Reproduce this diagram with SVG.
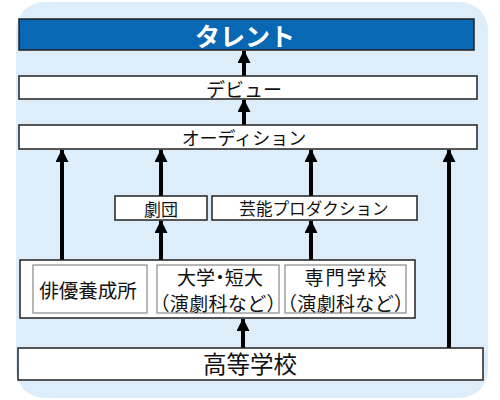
<svg xmlns="http://www.w3.org/2000/svg" width="500" height="400" viewBox="0 0 500 400">
<style>
text{font-family:"Noto Sans CJK JP","Noto Sans",sans-serif;fill:#111;text-anchor:middle;dominant-baseline:central}
.box{fill:#fff;stroke:#222;stroke-width:1.5}
.inner{fill:#fff;stroke:#888;stroke-width:1.2}
.arr{stroke:#000;stroke-width:4;fill:none;marker-end:url(#ah)}
.halt{font-feature-settings:"halt"}
.paren{font-size:19px}
</style>
<defs>
<marker id="ah" markerUnits="userSpaceOnUse" markerWidth="13" markerHeight="13" viewBox="0 0 13 13" refX="12" refY="6.5" orient="auto">
<path d="M0,0 L13,6.5 L0,13 z" fill="#000"/>
</marker>
</defs>
<rect x="16" y="2" width="472" height="396" rx="28" fill="#ddedfa"/>
<g id="connectors">
<line class="arr" x1="244" y1="76" x2="244" y2="51"/>
<line class="arr" x1="244" y1="125" x2="244" y2="100"/>
<line class="arr" x1="62" y1="260" x2="62" y2="150"/>
<line class="arr" x1="161" y1="196" x2="161" y2="150"/>
<line class="arr" x1="161" y1="260" x2="161" y2="221"/>
<line class="arr" x1="311" y1="196" x2="311" y2="150"/>
<line class="arr" x1="311" y1="260" x2="311" y2="221"/>
<line class="arr" x1="449" y1="348" x2="449" y2="150"/>
<line class="arr" x1="243" y1="348" x2="243" y2="319"/>
</g>
<g id="talent">
<rect x="19" y="19" width="455" height="31" fill="#0868b4" stroke="#222" stroke-width="1.5"/>
<text x="245" y="35" style="fill:#fff;font-weight:bold;font-size:25px">タレント</text>
</g>
<g id="debut">
<rect class="box" x="19" y="76" width="458" height="23"/>
<text x="244" y="88" font-size="19">デビュー</text>
</g>
<g id="audition">
<rect class="box" x="19" y="125" width="458" height="24"/>
<text x="244" y="137" font-size="18">オーディション</text>
</g>
<g id="gekidan">
<rect class="box" x="115" y="196" width="92" height="24"/>
<text x="161" y="208" font-size="17">劇団</text>
</g>
<g id="production">
<rect class="box" x="212" y="196" width="205" height="24"/>
<text x="314" y="208" font-size="16.6">芸能プロダクション</text>
</g>
<g id="schools">
<rect class="box" x="20" y="260" width="395" height="58"/>
<g id="haiyu">
<rect class="inner" x="33" y="265" width="114" height="48"/>
<text x="88" y="289" font-size="19.5">俳優養成所</text>
</g>
<g id="daigaku">
<rect class="inner" x="157" y="265" width="122" height="48"/>
<text class="halt" x="220" y="276" font-size="19" textLength="86" lengthAdjust="spacing">大学・短大</text>
<text class="halt paren" x="218" y="302.5" textLength="116" lengthAdjust="spacing">（演劇科など）</text>
</g>
<g id="senmon">
<rect class="inner" x="285" y="265" width="121" height="48"/>
<text x="345.5" y="276" font-size="19" textLength="82" lengthAdjust="spacing">専門学校</text>
<text class="halt paren" x="345.5" y="302.5" textLength="116" lengthAdjust="spacing">（演劇科など）</text>
</g>
</g>
<g id="highschool">
<rect class="box" x="18" y="348" width="465" height="32"/>
<text x="250" y="363" font-size="23.5">高等学校</text>
</g>
</svg>
